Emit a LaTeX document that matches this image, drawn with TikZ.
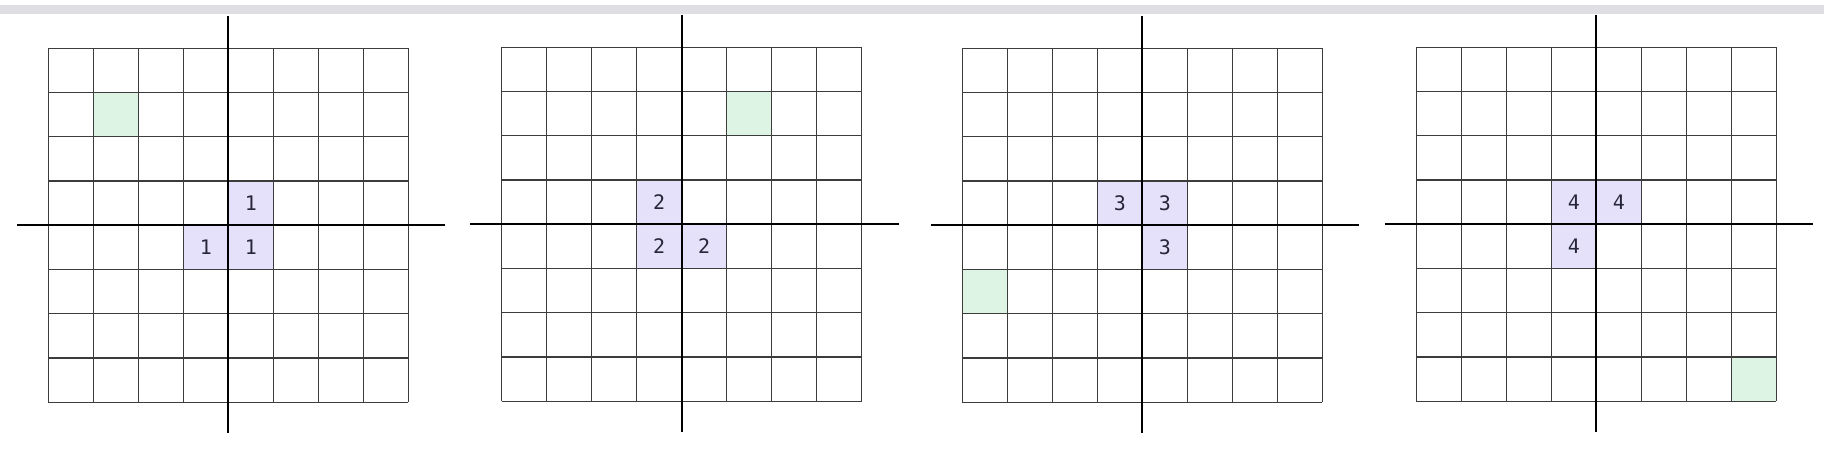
\documentclass[tikz,border=0pt]{standalone}
\usepackage{fontspec}
\newfontfamily\digitfont{DejaVu Sans Mono}
\definecolor{barcol}{HTML}{DEDEE3}
\definecolor{purpcol}{HTML}{E6E1FA}
\definecolor{greencol}{HTML}{DDF4E4}
\definecolor{gridcol}{HTML}{3C3C3C}
\definecolor{txtcol}{HTML}{26263A}
\tikzset{
  gridline/.style={draw=gridcol, line width=1.1pt},
  axisline/.style={draw=black, line width=2pt},
  purpcell/.style={fill=purpcol},
  greencell/.style={fill=greencol},
  numlabel/.style={inner sep=0pt, text=txtcol, font=\digitfont\fontsize{20}{23}\selectfont},
}
\newcommand\cellfill[3]{\fill[#3] ({#1*45},{#2*44.25}) rectangle ++(45,44.25);}
\newcommand\celllabel[4]{\node[numlabel] (#1) at ({(#2+0.5)*45},{(#3+0.5)*44.25}) {#4};}
\newcommand\gridandaxes[1]{%
  \foreach \i in {0,...,8} \draw[gridline] ({\i*45},0) -- ({\i*45},354);
  \foreach \j in {0,...,8} \draw[gridline] (0,{\j*44.25}) -- (360,{\j*44.25});
  \coordinate (#1xl) at (-31.5,177);
  \coordinate (#1xr) at (397,177);
  \coordinate (#1yt) at (180,-32.6);
  \coordinate (#1yb) at (180,384.4);
  \draw[axisline] (#1xl) -- (#1xr);
  \draw[axisline] (#1yt) -- (#1yb);
}
\begin{document}
\begin{tikzpicture}[x=1pt,y=-1pt]
\useasboundingbox (0,0) rectangle (1824,454);
\fill[barcol] (0,5) rectangle (1824,13.7);
% panel 1
\begin{scope}[shift={(48.3,48.3)}]
  \cellfill{1}{1}{greencell}
  \cellfill{4}{3}{purpcell}
  \cellfill{3}{4}{purpcell}
  \cellfill{4}{4}{purpcell}
  \gridandaxes{pa}
  \celllabel{pa1}{4}{3}{1}
  \celllabel{pa2}{3}{4}{1}
  \celllabel{pa3}{4}{4}{1}
\end{scope}
% panel 2
\begin{scope}[shift={(501.7,47.3)}]
  \cellfill{5}{1}{greencell}
  \cellfill{3}{3}{purpcell}
  \cellfill{3}{4}{purpcell}
  \cellfill{4}{4}{purpcell}
  \gridandaxes{pb}
  \celllabel{pb1}{3}{3}{2}
  \celllabel{pb2}{3}{4}{2}
  \celllabel{pb3}{4}{4}{2}
\end{scope}
% panel 3
\begin{scope}[shift={(962.3,48.3)}]
  \cellfill{0}{5}{greencell}
  \cellfill{3}{3}{purpcell}
  \cellfill{4}{3}{purpcell}
  \cellfill{4}{4}{purpcell}
  \gridandaxes{pc}
  \celllabel{pc1}{3}{3}{3}
  \celllabel{pc2}{4}{3}{3}
  \celllabel{pc3}{4}{4}{3}
\end{scope}
% panel 4
\begin{scope}[shift={(1416.3,47.3)}]
  \cellfill{7}{7}{greencell}
  \cellfill{3}{3}{purpcell}
  \cellfill{4}{3}{purpcell}
  \cellfill{3}{4}{purpcell}
  \gridandaxes{pd}
  \celllabel{pd1}{3}{3}{4}
  \celllabel{pd2}{4}{3}{4}
  \celllabel{pd3}{3}{4}{4}
\end{scope}
\end{tikzpicture}
\end{document}
